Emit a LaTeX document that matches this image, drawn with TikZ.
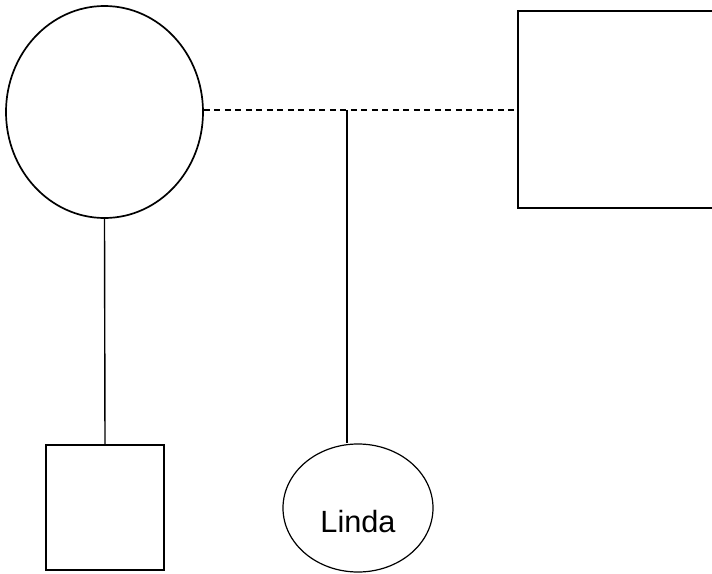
\documentclass[tikz,border=0pt]{standalone}
\usepackage{fontspec}
\setmainfont{Liberation Sans}
\usetikzlibrary{shapes.geometric}

\begin{document}
\begin{tikzpicture}[x=1pt,y=-1pt,line width=1.7pt,
  female/.style={draw,ellipse,inner sep=0pt},
  male/.style={draw,rectangle,inner sep=0pt}]
%\draw[help lines,step=50pt](0,0)grid(712,573);
\useasboundingbox (0,0) rectangle (712,573);
\node[female,minimum width=197pt,minimum height=212pt] (mother) at (104.5,112){};
\node[male,minimum width=200pt,minimum height=197pt] (father) at (618,109.5){};
\node[male,minimum width=118pt,minimum height=125pt,line width=1.4pt] (son) at (105,507.5){};
\node[female,minimum width=150pt,minimum height=128pt,line width=1.2pt,
  text height=48pt,text depth=0pt,font=\fontsize{30.7}{37}\selectfont] (linda) at (358,508){Linda};
\coordinate (mid) at (347,110);
\draw[dash pattern=on 6pt off 4.5pt] (mid-|mother.east)--(mid-|father.west);
\draw[line width=1.4pt] (mid)--(mid|-linda.north);
\draw[line width=1.4pt] (mother.south)--(son.north);
\end{tikzpicture}
\end{document}
